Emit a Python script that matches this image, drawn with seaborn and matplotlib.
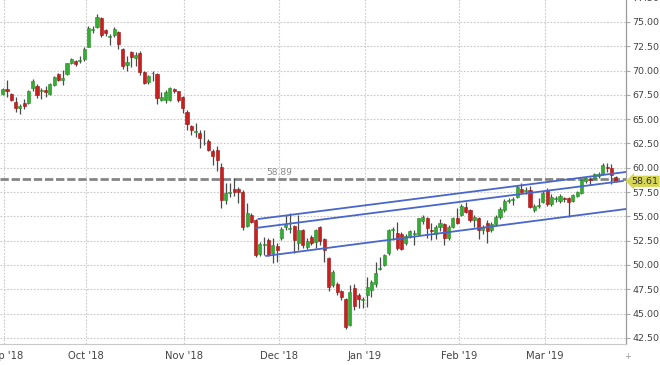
import numpy as np
import pandas as pd
import matplotlib
matplotlib.use('Agg')
import matplotlib.pyplot as plt
import seaborn as sns

# daily OHLC, index 0 = 31 Aug 2018
opens = [67.6, 68.07, 67.6, 66.75, 66.2, 66.7, 66.65, 68.25, 68.4, 67.85,
         68.0, 67.55, 68.5, 69.65, 69.05, 69.65, 70.75, 71.0, 70.95, 71.15,
         72.45, 74.2, 74.5, 75.4, 74.2, 73.5, 73.65, 74.0, 72.2, 70.55,
         71.9, 71.3, 71.85, 69.9, 68.85, 69.7, 69.6, 67.0, 67.0, 67.0,
         68.1, 67.85, 67.25, 65.7, 64.25, 63.7, 63.6, 62.5, 62.8, 61.75,
         61.85, 60.1, 56.7, 57.4, 57.8, 57.8, 57.55, 54.0, 55.15, 54.6,
         51.15, 52.1, 52.55, 51.2, 52.0, 52.75, 53.95, 53.7, 54.0, 52.25,
         53.6, 51.9, 52.85, 52.4, 53.95, 52.7, 50.7, 47.9, 48.0, 47.3,
         46.5, 43.8, 47.6, 46.9, 46.4, 46.9, 47.45, 48.05, 49.6, 50.0,
         51.2, 53.6, 53.25, 53.2, 52.25, 53.0, 53.2, 53.2, 54.55, 54.8,
         53.65, 53.2, 53.9, 54.2, 52.75, 53.95, 54.8, 55.15, 56.0, 55.65,
         54.65, 54.8, 53.6, 54.3, 53.6, 54.2, 54.9, 55.7, 56.6, 56.7,
         57.0, 57.8, 57.6, 57.7, 55.7, 56.1, 56.5, 57.7, 56.3, 56.8,
         56.6, 56.8, 56.9, 56.6, 57.1, 57.4, 58.6, 58.8, 58.9, 59.2,
         59.4, 60.1, 59.95, 59.1]
highs = [68.2, 69.0, 67.65, 67.3, 66.55, 67.05, 68.0, 69.1, 68.6, 68.2,
         68.4, 68.7, 69.4, 69.7, 70.1, 70.8, 71.25, 71.05, 71.45, 72.45,
         74.6, 74.6, 75.8, 75.55, 74.25, 73.75, 74.5, 74.1, 72.3, 71.45,
         72.0, 71.9, 72.0, 70.0, 69.5, 70.0, 69.7, 67.8, 68.0, 68.3,
         68.2, 67.9, 67.4, 65.95, 64.4, 64.6, 63.9, 63.9, 63.0, 61.9,
         62.25, 60.45, 58.4, 58.4, 58.9, 58.05, 57.7, 56.35, 55.3, 54.7,
         52.4, 52.85, 52.8, 52.75, 52.25, 53.95, 55.15, 55.3, 54.1, 55.15,
         53.7, 52.75, 53.05, 53.75, 54.0, 52.75, 50.85, 49.5, 48.3, 47.45,
         46.6, 47.95, 48.05, 47.1, 46.75, 48.8, 48.5, 50.35, 50.85, 51.15,
         53.75, 53.95, 54.45, 53.4, 53.15, 53.6, 53.6, 54.85, 55.1, 54.9,
         54.3, 54.1, 54.7, 54.35, 54.1, 54.9, 55.85, 56.3, 56.5, 55.8,
         55.1, 54.9, 54.1, 54.6, 54.4, 55.1, 56.0, 56.8, 56.9, 57.0,
         58.2, 58.4, 58.0, 58.1, 56.3, 56.9, 57.6, 57.9, 57.3, 57.1,
         57.3, 57.0, 57.0, 57.3, 57.6, 58.8, 59.0, 59.1, 59.5, 59.6,
         60.5, 60.45, 60.4, 59.2]
lows = [67.5, 67.25, 66.9, 65.7, 65.5, 66.05, 66.55, 67.9, 67.15, 67.05,
        67.3, 67.45, 68.4, 68.9, 68.5, 69.55, 70.7, 70.45, 70.75, 71.0,
        72.4, 73.9, 74.35, 73.45, 73.55, 72.6, 73.5, 72.2, 70.2, 70.0,
        70.4, 70.5, 69.55, 68.6, 68.6, 68.95, 66.6, 66.85, 66.65, 66.9,
        67.7, 66.75, 65.6, 63.9, 63.35, 63.2, 62.0, 62.35, 61.7, 60.3,
        59.7, 55.85, 56.3, 57.0, 57.05, 56.35, 53.6, 53.95, 54.3, 50.85,
        50.95, 51.05, 50.95, 50.2, 50.35, 52.6, 53.6, 53.25, 51.2, 51.55,
        51.75, 51.6, 52.05, 51.7, 52.1, 50.35, 47.35, 47.7, 46.9, 46.4,
        43.45, 43.7, 45.4, 45.6, 45.55, 45.7, 46.7, 47.75, 49.45, 49.9,
        51.05, 52.55, 51.55, 51.5, 52.1, 52.8, 52.05, 53.1, 54.2, 52.75,
        52.55, 52.65, 53.5, 52.05, 52.6, 53.8, 54.25, 55.0, 55.3, 54.45,
        53.95, 52.65, 53.2, 52.3, 53.4, 54.0, 54.7, 55.5, 56.4, 56.2,
        56.9, 57.4, 57.3, 55.9, 55.5, 55.9, 56.4, 56.1, 56.1, 56.5,
        56.4, 56.5, 54.9, 56.5, 57.0, 57.3, 58.4, 58.2, 58.8, 59.0,
        59.3, 59.6, 58.3, 58.5]
closes = [68.1, 67.85, 67.0, 66.1, 66.35, 66.4, 67.9, 68.95, 67.5, 68.0,
          67.8, 68.6, 69.3, 69.05, 69.2, 70.75, 71.15, 70.65, 71.1, 72.2,
          74.35, 74.3, 75.5, 73.65, 73.85, 73.6, 74.25, 72.75, 70.45, 70.9,
          71.4, 71.6, 69.9, 68.75, 69.45, 69.8, 67.15, 67.3, 67.8, 68.2,
          67.85, 67.0, 66.1, 64.5, 63.9, 63.75, 63.05, 62.6, 61.85, 61.2,
          60.8, 56.7, 57.4, 57.5, 57.55, 57.5, 53.95, 55.3, 54.45, 51.05,
          52.2, 52.15, 51.05, 52.05, 51.55, 53.75, 54.2, 53.8, 52.55, 53.65,
          52.05, 52.5, 52.25, 53.65, 52.5, 51.55, 47.75, 49.3, 47.2, 46.75,
          43.65, 47.25, 45.75, 46.55, 46.5, 47.75, 48.3, 49.2, 49.7, 51.05,
          53.6, 53.7, 51.75, 51.6, 53.0, 53.45, 53.3, 54.8, 54.9, 53.8,
          53.45, 53.9, 54.35, 52.75, 53.95, 54.8, 54.35, 56.05, 55.5, 54.6,
          54.9, 53.6, 53.9, 53.5, 54.2, 54.9, 55.8, 56.6, 56.7, 56.8,
          58.0, 57.5, 57.7, 56.0, 56.1, 56.2, 57.4, 56.3, 57.0, 56.9,
          57.1, 56.75, 56.5, 57.2, 57.5, 58.7, 58.9, 58.7, 59.4, 59.4,
          60.3, 60.0, 59.3, 58.61]

month_labels = ["Sep '18", "Oct '18", "Nov '18", "Dec '18", "Jan '19", "Feb '19", "Mar '19"]
month_first_idx = [1, 20, 43, 65, 85, 107, 127]

price_ticks = [42.5, 45.0, 47.5, 50.0, 52.5, 55.0, 57.5, 60.0, 62.5, 65.0, 67.5, 70.0, 72.5, 75.0, 77.5]

# channel lines (start idx, end idx, start price, end price)
chan_x = [[59.6, 145.4], [59.1, 144.7], [61.4, 145.4]]
chan_y = [[54.73, 59.57], [53.81, 58.64], [50.93, 55.76]]

ref_level = 58.89
last_price = 58.61

df = pd.DataFrame({'open': opens, 'high': highs, 'low': lows, 'close': closes})
df['idx'] = np.arange(len(df))
df['up'] = df['close'] >= df['open']

sns.set_style('white')
plt.rcParams['font.family'] = ['DejaVu Sans']

fig = plt.figure(figsize=(6.6, 3.65), dpi=100)
ax = fig.add_axes([0.0, 0.0575, 0.9485, 0.9534])

green = '#33ad33'
red = '#c8201e'
body_col = np.where(df['up'], green, red)
edge_col = np.where(df['up'], '#238a23', '#9a1414')

# wicks
ax.vlines(df['idx'], df['low'], df['high'], color='#4a4a4a', linewidth=0.9, zorder=3)
# bodies (min height so dojis stay visible)
h = (df['close'] - df['open']).abs().clip(lower=0.1)
bottom = df[['open', 'close']].min(axis=1)
ax.bar(df['idx'], h, bottom=bottom, width=0.72, color=body_col,
       edgecolor=edge_col, linewidth=0.4, zorder=4)

# channel lines
for xs, ys in zip(chan_x, chan_y):
    sns.lineplot(x=xs, y=ys, ax=ax, color='#4866cc', linewidth=1.3, zorder=5)

# reference dashed line
ax.axhline(ref_level, color='#858585', linewidth=2.0, linestyle=(0, (3.0, 1.0)), zorder=2)
ax.text(61.5, ref_level + 0.15, f'{ref_level:.2f}', fontsize=6.5, color='#8a8a8a',
        ha='left', va='bottom', zorder=6)

ax.set_xlim(-0.63, 145.4)
ax.set_ylim(41.87, 77.67)

ax.yaxis.tick_right()
ax.set_yticks(price_ticks)
ax.set_yticklabels([f'{t:.2f}' for t in price_ticks])
ax.set_xticks([i - 0.6 for i in month_first_idx])
ax.set_xticklabels(month_labels)
ax.tick_params(axis='y', length=3, color='#aaaaaa', labelsize=6.8, labelcolor='#444444', pad=1.5)
ax.tick_params(axis='x', length=0, labelsize=7.2, labelcolor='#444444', pad=5)

ax.grid(True, color='#c8c8c8', linestyle=(0, (1.5, 1.5)), linewidth=0.8)
ax.set_axisbelow(True)
for s in ['top', 'left']:
    ax.spines[s].set_visible(False)
ax.spines['right'].set_color('#9a9a9a')
ax.spines['bottom'].set_color('#c8c8c8')
ax.spines['right'].set_linewidth(0.9)
ax.spines['bottom'].set_linewidth(0.8)

# last price tag
ax.annotate(f'{last_price:.2f}', xy=(1.0, last_price), xycoords=('axes fraction', 'data'),
            xytext=(4, 0), textcoords='offset points', fontsize=6.8, color='#333333',
            va='center', ha='left',
            bbox=dict(boxstyle='larrow,pad=0.12', facecolor='#d6d654', edgecolor='none'))

fig.text(0.951, 0.022, '+', fontsize=6, color='#999999', ha='center', va='center')

fig.savefig('out.png', dpi=100, facecolor='white')
